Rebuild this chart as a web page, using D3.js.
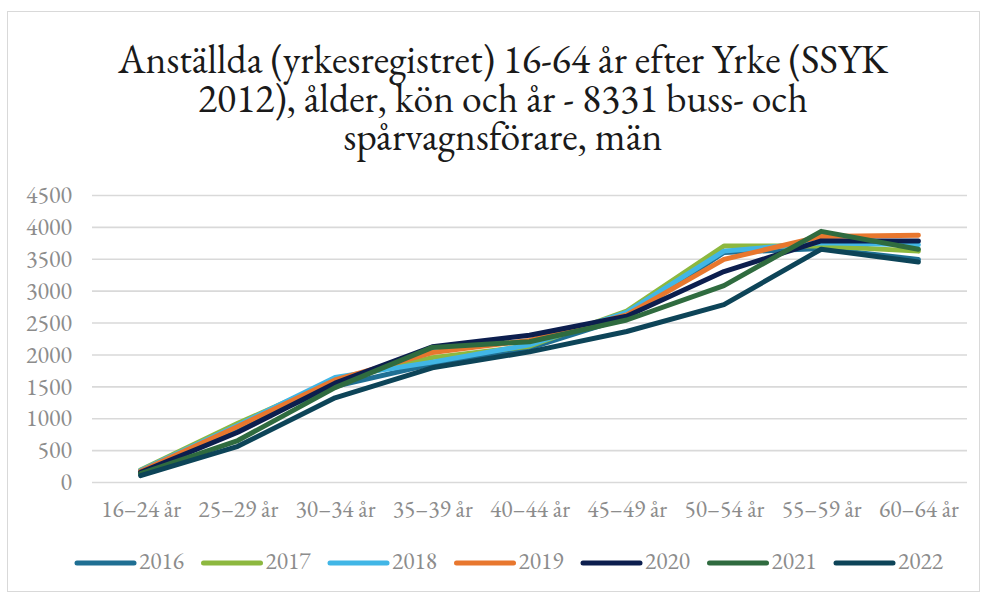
<!DOCTYPE html>
<html>
<head>
<meta charset="utf-8">
<script src="https://cdn.jsdelivr.net/npm/d3@7"></script>
<style>
  html, body { margin: 0; padding: 0; background: #fff; }
  svg { display: block; }
</style>
</head>
<body>
<svg id="chart" width="984" height="597" font-family="EB Garamond"></svg>
<script>
const titleLines = [
  "Anställda (yrkesregistret) 16-64 år efter Yrke (SSYK",
  "2012), ålder, kön och år - 8331 buss- och",
  "spårvagnsförare, män"
];
const categories = ["16–24 år","25–29 år","30–34 år","35–39 år","40–44 år","45–49 år","50–54 år","55–59 år","60–64 år"];
const years = ["2016","2017","2018","2019","2020","2021","2022"];
const colors = ["#1f6f93","#8db83f","#41b6e6","#e8772e","#0c1e4e","#2f6b3f","#0d4458"];
const v2016 = [150, 850, 1500, 1850, 2100, 2580, 3600, 3660, 3490];
const v2017 = [190, 920, 1600, 1950, 2130, 2680, 3700, 3700, 3620];
const v2018 = [180, 890, 1640, 1880, 2150, 2660, 3620, 3750, 3720];
const v2019 = [170, 870, 1600, 2030, 2220, 2620, 3490, 3850, 3870];
const v2020 = [150, 780, 1550, 2120, 2300, 2600, 3300, 3780, 3780];
const v2021 = [130, 650, 1480, 2110, 2200, 2540, 3080, 3930, 3650];
const v2022 = [100, 560, 1320, 1790, 2040, 2360, 2780, 3650, 3450];
const seriesValues = [v2016, v2017, v2018, v2019, v2020, v2021, v2022];
const yTicks = [0, 500, 1000, 1500, 2000, 2500, 3000, 3500, 4000, 4500];

const svg = d3.select("#chart");
const FONT = "EB Garamond";

// helper: font size that gives a sample string a target width
function fitSize(str, target) {
  const t = svg.append("text").attr("font-family", FONT).attr("font-size", 100).text(str);
  const w = t.node().getComputedTextLength();
  t.remove();
  return 100 * target / w;
}

// frame
svg.append("rect").attr("x", 7.5).attr("y", 11.5).attr("width", 972).attr("height", 580)
  .attr("fill", "#fff").attr("stroke", "#d9d9d9").attr("stroke-width", 1);

// title
const titleSize = fitSize(titleLines[0], 770);
const titleBase = [73, 112, 150];
titleLines.forEach((t, i) => {
  svg.append("text").attr("x", 503).attr("y", titleBase[i])
    .attr("text-anchor", "middle")
    .attr("font-family", FONT).attr("font-size", titleSize).attr("fill", "#1a1a1a")
    .text(t);
});

const x = d3.scalePoint().domain(categories).range([92, 967]).padding(0.5);
const y = d3.scaleLinear().domain([0, 4500]).range([482, 195]);

const tickSize = fitSize("4500", 46);
const catSize = fitSize("16–24 år", 80);
const legSize = fitSize("2016", 45);

// y axis + gridlines
const gy = svg.append("g").attr("transform", "translate(92,0)")
  .call(d3.axisLeft(y).tickValues(yTicks).tickSize(-875).tickPadding(20).tickFormat(d3.format("d")));
gy.attr("font-family", FONT).attr("font-size", tickSize);
gy.select(".domain").remove();
gy.selectAll(".tick line").attr("stroke", "#d9d9d9").attr("stroke-width", 1.6);
gy.selectAll(".tick text").attr("font-family", FONT).attr("font-size", tickSize).attr("fill", "#8c8c8c");

// x axis
const gx = svg.append("g").attr("transform", "translate(0,482)")
  .call(d3.axisBottom(x).tickSize(0).tickPadding(18));
gx.attr("font-family", FONT).attr("font-size", catSize);
gx.select(".domain").remove();
gx.selectAll(".tick text").attr("font-family", FONT).attr("font-size", catSize).attr("fill", "#8c8c8c");

// lines
const line = d3.line().x((d, i) => x(categories[i])).y(d => y(d));
seriesValues.forEach((vals, i) => {
  svg.append("path").datum(vals).attr("d", line)
    .attr("fill", "none").attr("stroke", colors[i]).attr("stroke-width", 5)
    .attr("stroke-linejoin", "round").attr("stroke-linecap", "round");
});

// legend
const lg = svg.append("g");
years.forEach((yr, i) => {
  const lx = 77 + i * 126.5;
  lg.append("line").attr("x1", lx).attr("x2", lx + 57).attr("y1", 563).attr("y2", 563)
    .attr("stroke", colors[i]).attr("stroke-width", 5).attr("stroke-linecap", "round");
  lg.append("text").attr("x", lx + 62).attr("y", 569)
    .attr("font-family", FONT).attr("font-size", legSize).attr("fill", "#8c8c8c").text(yr);
});
</script>
</body>
</html>
